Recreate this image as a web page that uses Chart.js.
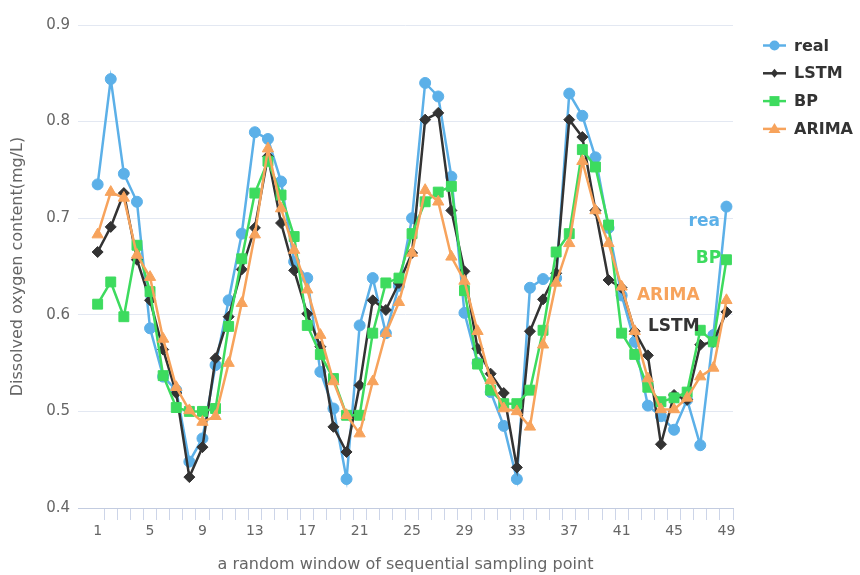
<!DOCTYPE html>
<html>
<head>
<meta charset="utf-8">
<script src="https://cdn.jsdelivr.net/npm/chart.js@4.4.0/dist/chart.umd.min.js"></script>
<style>
  html,body{margin:0;background:#fff}
  #wrap{width:860px;height:575px}
</style>
</head>
<body>
<div id="wrap"><canvas id="c"></canvas></div>
<script>
/* ---------- data ---------- */
const xLabels = [1,2,3,4,5,6,7,8,9,10,11,12,13,14,15,16,17,18,19,20,21,22,23,24,25,
                 26,27,28,29,30,31,32,33,34,35,36,37,38,39,40,41,42,43,44,45,46,47,48,49];
const yTicks = [0.4,0.5,0.6,0.7,0.8,0.9];

const real  = [0.735,0.844,0.746,0.717,0.586,0.536,0.522,0.448,0.472,0.548,
               0.615,0.684,0.789,0.782,0.738,0.655,0.638,0.541,0.503,0.430,
               0.589,0.638,0.581,0.630,0.700,0.840,0.826,0.743,0.602,0.550,
               0.520,0.485,0.430,0.628,0.637,0.638,0.829,0.806,0.763,0.690,
               0.620,0.572,0.506,0.495,0.481,0.512,0.465,0.579,0.712];
const lstm  = [0.665,0.691,0.726,0.657,0.615,0.564,0.519,0.432,0.463,0.555,
               0.598,0.647,0.690,0.764,0.695,0.646,0.601,0.567,0.484,0.458,
               0.527,0.615,0.605,0.633,0.664,0.802,0.809,0.708,0.645,0.565,
               0.539,0.519,0.442,0.583,0.616,0.643,0.802,0.784,0.708,0.636,
               0.628,0.583,0.558,0.466,0.517,0.512,0.569,0.572,0.603];
const bp    = [0.611,0.634,0.598,0.672,0.624,0.537,0.504,0.500,0.500,0.503,
               0.588,0.658,0.726,0.759,0.724,0.681,0.589,0.559,0.534,0.496,
               0.496,0.581,0.633,0.638,0.684,0.717,0.727,0.733,0.625,0.549,
               0.522,0.508,0.508,0.522,0.584,0.665,0.684,0.771,0.753,0.693,
               0.581,0.559,0.525,0.510,0.514,0.520,0.584,0.572,0.657];
const arima = [0.683,0.727,0.721,0.662,0.639,0.575,0.525,0.501,0.489,0.495,
               0.550,0.612,0.683,0.772,0.710,0.667,0.626,0.579,0.531,0.496,
               0.477,0.531,0.581,0.613,0.664,0.729,0.717,0.660,0.635,0.583,
               0.532,0.503,0.500,0.484,0.569,0.633,0.674,0.759,0.708,0.674,
               0.629,0.583,0.534,0.502,0.502,0.514,0.536,0.545,0.615];

/* ---------- look ---------- */
const FONT = "'DejaVu Sans', sans-serif";
Chart.defaults.font.family = FONT;
const C = { real:'#5cb0e8', lstm:'#333333', bp:'#3ddb5e', arima:'#f7a35c' };

// first (empty) category keeps the gap before "1"
const labelsAll = [''].concat(xLabels.map(String));
const pad = arr => [null].concat(arr);

function mk(label, data, color, style, r, order){
  return {
    label, data:pad(data), borderColor:color, backgroundColor:color,
    pointBackgroundColor:color, pointBorderColor:color, pointBorderWidth:1,
    pointStyle:style, pointRadius:r, borderWidth:2.5, tension:0, order
  };
}

/* ---------- legend on the right (line + marker) ---------- */
function marker(ctx, style, x, y, r){
  ctx.beginPath();
  if(style==='circle'){ ctx.arc(x,y,r,0,Math.PI*2); }
  else if(style==='rectRot'){ ctx.moveTo(x,y-r); ctx.lineTo(x+r*0.8,y); ctx.lineTo(x,y+r); ctx.lineTo(x-r*0.8,y); ctx.closePath(); }
  else if(style==='rect'){ ctx.rect(x-r,y-r,2*r,2*r); }
  else { ctx.moveTo(x,y-r); ctx.lineTo(x+r,y+r*0.7); ctx.lineTo(x-r,y+r*0.7); ctx.closePath(); }
  ctx.fill();
}
const sideLegend = {
  id:'sideLegend',
  afterDraw(chart){
    const ctx = chart.ctx;
    const items = [['real','circle',5],['LSTM','rectRot',4.5],['BP','rect',5],['ARIMA','triangle',6]];
    const cols = [C.real,C.lstm,C.bp,C.arima];
    items.forEach(([t,st,r],i)=>{
      const y = 45.5 + i*27.8;
      ctx.save();
      ctx.strokeStyle = cols[i]; ctx.fillStyle = cols[i]; ctx.lineWidth = 2.5;
      ctx.beginPath(); ctx.moveTo(763,y); ctx.lineTo(786,y); ctx.stroke();
      marker(ctx, st, 774.5, y, r);
      ctx.fillStyle = '#333';
      ctx.font = 'bold 16px ' + FONT;
      ctx.textAlign = 'left'; ctx.textBaseline = 'middle';
      ctx.fillText(t, 794, y+1);
      ctx.restore();
    });
  }
};

/* ---------- name tags inside the plot ---------- */
const endTags = {
  id:'endTags',
  afterDatasetsDraw(chart){
    const {ctx, scales:{x,y}} = chart;
    const tags = [['rea',C.real,48.5,0.696],['BP',C.bp,48.6,0.658],
                  ['ARIMA',C.arima,46.95,0.620],['LSTM',C.lstm,46.95,0.588]];
    ctx.save();
    ctx.font = 'bold 17px ' + FONT;
    ctx.textAlign = 'right'; ctx.textBaseline = 'middle';
    tags.forEach(([t,col,xv,yv])=>{
      ctx.fillStyle = col;
      ctx.fillText(t, x.getPixelForValue(xv), y.getPixelForValue(yv));
    });
    ctx.restore();
  }
};

new Chart(document.getElementById('c'), {
  type:'line',
  data:{
    labels:labelsAll,
    datasets:[
      mk('real',  real,  C.real,  'circle',   5.5, 4),
      mk('LSTM',  lstm,  C.lstm,  'rectRot',  5.5, 3),
      mk('BP',    bp,    C.bp,    'rect',     7,   2),
      mk('ARIMA', arima, C.arima, 'triangle', 6.5, 1)
    ]
  },
  options:{
    responsive:true, maintainAspectRatio:false, animation:false, events:[],
    layout:{ padding:{ top:25, right:127, left:0, bottom:0 } },
    plugins:{ legend:{display:false}, tooltip:{enabled:false} },
    scales:{
      x:{
        type:'category', offset:true,
        grid:{ offset:true, drawOnChartArea:false, drawTicks:true, tickLength:12,
               color: c => c.index < 2 ? 'rgba(0,0,0,0)' : '#cdd5e8' },
        border:{ display:true, color:'#c3cce0', width:1 },
        ticks:{ autoSkip:false, maxRotation:0, padding:3, color:'#666',
                font:{size:14}, callback:(v,i)=> i%4===1 ? labelsAll[i] : '' },
        title:{ display:true, text:'a random window of sequential sampling point',
                color:'#666', font:{size:16}, padding:{top:0,bottom:1} },
        afterFit: s => { s.height = 67; }
      },
      y:{
        min:yTicks[0], max:yTicks[yTicks.length-1],
        grid:{ color:'#e3e8f2', drawTicks:false },
        border:{ display:false },
        ticks:{ stepSize:0.1, padding:8, color:'#666', font:{size:15},
                callback: v => v.toFixed(1) },
        title:{ display:true, text:'Dissolved oxygen content(mg/L)',
                color:'#666', font:{size:16}, padding:{top:8,bottom:0} },
        afterFit: s => { s.width = 78; }
      }
    }
  },
  plugins:[endTags, sideLegend]
});
</script>
</body>
</html>
